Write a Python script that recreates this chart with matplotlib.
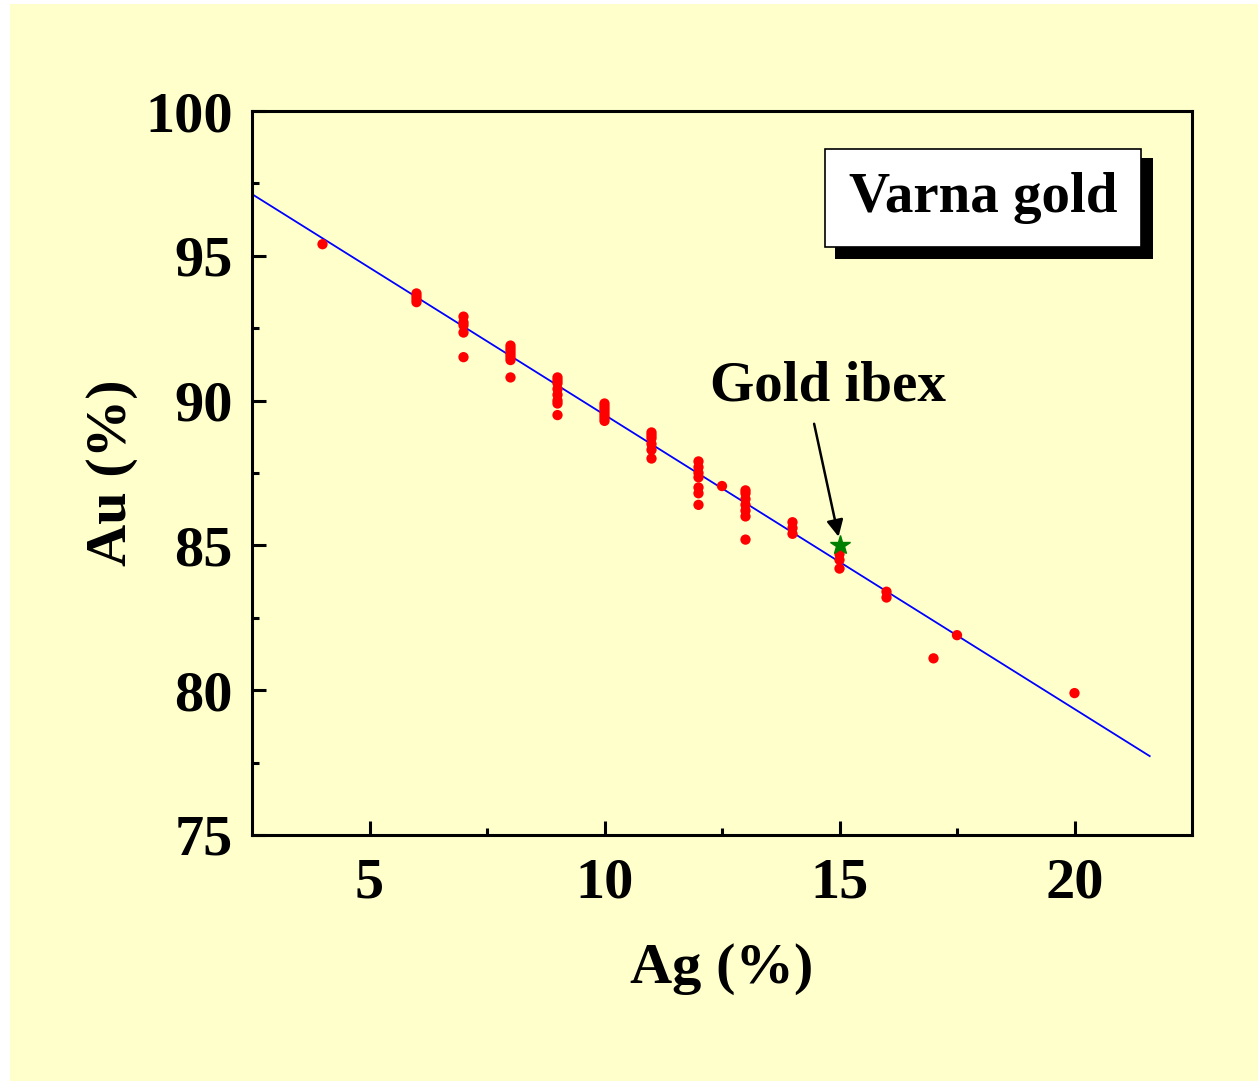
import numpy as np
import matplotlib
matplotlib.use('Agg')
import matplotlib.pyplot as plt
from matplotlib.patches import Rectangle

plt.rcParams['font.family'] = ['Liberation Serif', 'DejaVu Serif']
plt.rcParams['font.weight'] = 'bold'

# Ag (%) and Au (%) of the Varna gold samples
ag = [4,
      6, 6, 6, 6,
      7, 7, 7, 7, 7,
      8, 8, 8, 8, 8, 8, 8,
      9, 9, 9, 9, 9, 9, 9, 9,
      10, 10, 10, 10, 10, 10, 10,
      11, 11, 11, 11, 11, 11,
      12, 12, 12, 12, 12, 12, 12,
      12.5,
      13, 13, 13, 13, 13, 13, 13,
      14, 14, 14,
      15, 15, 15,
      16, 16,
      17, 17.5, 20]
au = [95.4,
      93.7, 93.6, 93.5, 93.4,
      92.9, 92.7, 92.6, 92.35, 91.5,
      91.9, 91.8, 91.7, 91.6, 91.5, 91.4, 90.8,
      90.8, 90.7, 90.6, 90.4, 90.2, 90.0, 89.9, 89.5,
      89.9, 89.8, 89.7, 89.6, 89.5, 89.4, 89.3,
      88.9, 88.8, 88.7, 88.5, 88.3, 88.0,
      87.9, 87.7, 87.5, 87.35, 87.0, 86.8, 86.4,
      87.05,
      86.9, 86.8, 86.6, 86.4, 86.2, 86.0, 85.2,
      85.8, 85.6, 85.4,
      84.7, 84.5, 84.2,
      83.4, 83.2,
      81.1, 81.9, 79.9]

# gold ibex
ibex_ag = [15]
ibex_au = [85.0]

# linear fit Au = a + b*Ag
fit_a = 99.67
fit_b = -1.016
fit_range = [2.5, 21.6]

fig = plt.figure(figsize=(12.58, 10.81), dpi=100, facecolor='white')
# yellow page background
fig.patches.append(Rectangle((10/1258, 0), 1, 1 - 4/1081, transform=fig.transFigure,
                             facecolor='#ffffcc', edgecolor='none', zorder=-10))

ax = fig.add_axes([252/1258, 1 - 835/1081, 940/1258, 724/1081])
ax.set_facecolor('#ffffcc')

fx = np.array(fit_range)
ax.plot(fx, fit_a + fit_b*fx, color='blue', lw=1.3, zorder=2)
ax.scatter(ag, au, s=55, color='red', edgecolors='none', zorder=3)
ax.plot(ibex_ag, ibex_au, marker='*', color='green', ms=15, ls='none', zorder=4)

ax.set_xlim(2.5, 22.5)
ax.set_ylim(75, 100)
ax.set_xticks([5, 10, 15, 20])
ax.set_xticks([7.5, 12.5, 17.5], minor=True)
ax.set_yticks([75, 80, 85, 90, 95, 100])
ax.set_yticks([77.5, 82.5, 87.5, 92.5, 97.5], minor=True)

for s in ax.spines.values():
    s.set_linewidth(2.2)
ax.tick_params(which='major', direction='in', length=10, width=2.2, labelsize=42, pad=14)
ax.tick_params(which='minor', direction='in', length=5, width=2.2)
ax.tick_params(axis='x', pad=16)

ax.set_xlabel('Ag (%)', fontsize=42, fontweight='bold', labelpad=24)
ax.set_ylabel('Au (%)', fontsize=42, fontweight='bold', labelpad=5)

# "Varna gold" box with shadow
fig.patches.append(Rectangle((835/1258, 1 - 259/1081), 318/1258, 101/1081,
                             transform=fig.transFigure, facecolor='black',
                             edgecolor='none', zorder=5))
fig.patches.append(Rectangle((825/1258, 1 - 247/1081), 316/1258, 98/1081,
                             transform=fig.transFigure, facecolor='white',
                             edgecolor='black', lw=1.2, zorder=6))
fig.text(983/1258, 1 - 198/1081, 'Varna gold', fontsize=41, fontweight='bold',
         ha='center', va='center', zorder=7)

ax.annotate('', xy=(14.98, 85.3), xytext=(14.46, 89.2),
            arrowprops=dict(arrowstyle='-|>', color='black', lw=1.8,
                            mutation_scale=25, shrinkA=0, shrinkB=0))
ax.text(14.76, 90.0, 'Gold ibex', fontsize=41, fontweight='bold',
        ha='center', va='baseline')

fig.savefig('out.png', dpi=100, facecolor=fig.get_facecolor())
